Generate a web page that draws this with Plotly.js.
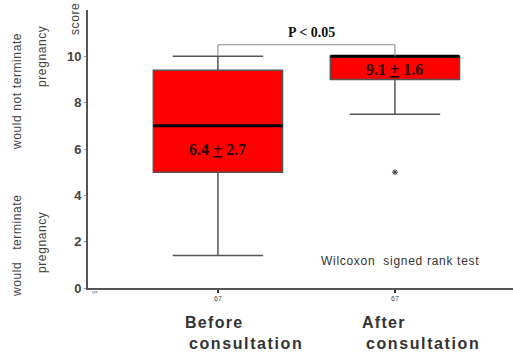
<!DOCTYPE html>
<html><head><meta charset="utf-8">
<script src="https://cdn.plot.ly/plotly-3.0.1.min.js"></script>
<style>html,body{margin:0;padding:0;background:#fff}#c{width:513px;height:353px}</style>
</head><body><div id="c"></div>
<script>
// ---- data ----
const categories = ['Before', 'After'];
const categorySub = ['consultation', 'consultation'];
const nLabels = ['67', '67'];
const q1 = [5.0, 9.0];
const median = [7.0, 10.0];
const q3 = [9.4, 10.0];
const lowerfence = [1.4, 7.5];
const upperfence = [10.0, 10.0];
const outlierX = [1];
const outlierY = [5.0];
const meanSD = ['6.4 <u>+</u> 2.7', '9.1 <u>+</u> 1.6'];
const pText = 'P < 0.05';
const testText = 'Wilcoxon  signed rank test';
const yTicks = [0, 2, 4, 6, 8, 10];

// ---- drawing ----
const xs = categories.map((_, i) => i);
const boxW = 0.73;
const traces = [];
traces.push({
  type: 'box', x: xs, q1: q1, median: median, q3: q3,
  lowerfence: lowerfence, upperfence: upperfence,
  width: boxW, whiskerwidth: 0.7, boxpoints: false,
  fillcolor: '#ff0000', line: {color: '#555', width: 1.5},
  hoverinfo: 'skip', showlegend: false
});
xs.forEach((x, i) => {
  traces.push({type: 'scatter', mode: 'lines', x: [x - boxW/2, x + boxW/2], y: [median[i], median[i]],
    line: {color: '#000', width: 3}, hoverinfo: 'skip', showlegend: false});
});
traces.push({type: 'scatter', mode: 'markers', x: outlierX, y: outlierY,
  marker: {symbol: 'asterisk-open', size: 5, color: '#333', line: {color: '#333', width: 1}},
  hoverinfo: 'skip', showlegend: false});

const ann = [];
const catFont = {family: 'Arial', size: 16, color: '#333'};
xs.forEach((x, i) => {
  ann.push({x: x, y: 0, xref: 'x', yref: 'y', text: nLabels[i], showarrow: false, yshift: -10,
    font: {family: 'Arial', size: 7, color: '#444'}});
  ann.push({x: x - 0.2, y: 0, xref: 'x', yref: 'y', text: '<span style="letter-spacing:1.3px"><b>' + categories[i] + '</b></span>',
    showarrow: false, xanchor: 'left', yshift: -34, font: catFont});
  ann.push({x: x - 0.177, y: 0, xref: 'x', yref: 'y', text: '<span style="letter-spacing:1.6px"><b>' + categorySub[i] + '</b></span>',
    showarrow: false, xanchor: 'left', yshift: -55, font: catFont});
});
const labelY = [6.0, 9.45];
xs.forEach((x, i) => {
  ann.push({x: x, y: labelY[i], xref: 'x', yref: 'y', text: '<b>' + meanSD[i] + '</b>', showarrow: false,
    font: {family: 'Liberation Serif, Times New Roman', size: 16, color: '#2a0000'}});
});
const brTop = Math.max(...upperfence) + 0.5;
ann.push({x: (xs[0] + xs[1]) / 2 + 0.03, y: brTop + 0.55, xref: 'x', yref: 'y', text: '<b>' + pText + '</b>', showarrow: false,
  font: {family: 'Liberation Serif, Times New Roman', size: 14, color: '#111'}});
ann.push({x: 1.03, y: 1.17, xref: 'x', yref: 'y', text: '<span style="letter-spacing:0.7px">' + testText + '</span>', showarrow: false,
  font: {family: 'Arial', size: 12, color: '#333'}});
// left labels (pixel placed, converted to paper)
const leftLabels = [
  {t: 'score', x: 75, y: 19},
  {t: 'would not terminate', x: 17, y: 92},
  {t: 'pregnancy', x: 42, y: 57},
  {t: 'would   terminate', x: 17, y: 246},
  {t: 'pregnancy', x: 42, y: 243}
];
const L = 88, T = 10, W = 513 - 88, H = 288 - 10;
leftLabels.forEach(l => ann.push({x: (l.x - L) / W, y: 1 - (l.y - T) / H, xref: 'paper', yref: 'paper',
  xanchor: 'center', yanchor: 'middle', text: '<span style="letter-spacing:0.6px">' + l.t + '</span>',
  showarrow: false, textangle: -90, font: {family: 'Arial', size: 12, color: '#444'}}));
ann.push({x: 0, y: 0, xref: 'paper', yref: 'paper', text: 'n=', showarrow: false, yshift: -9, xshift: 2,
  font: {family: 'Arial', size: 5, color: '#666'}});

const shapes = [{type: 'path', xref: 'x', yref: 'y',
  path: `M ${xs[0]} ${upperfence[0]} L ${xs[0]} ${brTop} L ${xs[1]} ${brTop} L ${xs[1]} ${q3[1]}`,
  line: {color: '#888', width: 1}}];

const layout = {
  width: 513, height: 353,
  margin: {l: L, r: 0, t: T, b: 353 - 288},
  paper_bgcolor: '#fff', plot_bgcolor: '#fff',
  showlegend: false,
  xaxis: {range: [-0.734, 1.667], showgrid: false, zeroline: false, showline: true, linecolor: '#555', linewidth: 2,
    tickvals: xs, ticktext: ['', ''], ticks: 'outside', ticklen: 3, tickcolor: '#333', tickwidth: 2},
  yaxis: {range: [0, 12], showgrid: false, zeroline: false, showline: true, linecolor: '#555', linewidth: 2,
    tickvals: yTicks, ticktext: yTicks.map(v => '<b>' + v + '</b>'), ticks: 'outside', ticklen: 2, tickcolor: '#999', tickwidth: 1,
    tickfont: {family: 'Arial', size: 13, color: '#444'}},
  annotations: ann, shapes: shapes
};
Plotly.newPlot('c', traces, layout, {staticPlot: true});
</script></body></html>
